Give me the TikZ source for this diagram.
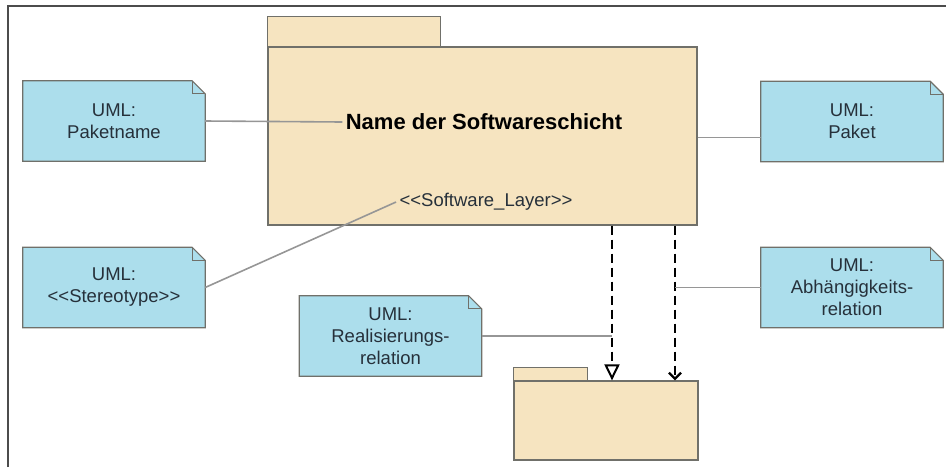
\documentclass[tikz,border=0pt]{standalone}
\usepackage{fontspec}
\setmainfont{Liberation Sans}
\usetikzlibrary{arrows.meta,backgrounds}
\definecolor{notizblau}{RGB}{172,222,236}
\definecolor{paketgelb}{RGB}{246,228,192}
\definecolor{randgrau}{RGB}{112,112,106}
\definecolor{liniengrau}{RGB}{150,150,150}
\definecolor{textgrau}{RGB}{38,48,58}
\tikzset{
	notiz/.style={minimum width=182pt,minimum height=80pt,inner sep=0pt,align=center,
		text=textgrau,font=\fontsize{18.5}{22}\selectfont},
	notizrand/.style={fill=notizblau,draw=randgrau,line width=1.2pt},
	paketrand/.style={fill=paketgelb,draw=randgrau,line width=1.2pt,inner sep=0pt},
	verbinder/.style={draw=liniengrau,line width=1.6pt},
	realpfeil/.style={line width=2.4pt,dash pattern=on 9pt off 5pt,
		-{Triangle[open,length=16pt,width=15pt,line width=2pt]}},
	abhpfeil/.style={line width=2.4pt,dash pattern=on 9pt off 5pt,
		-{Straight Barb[length=6pt,width=12pt,line width=2.4pt]}}
}
\begin{document}
\begin{tikzpicture}[x=1pt,y=-1pt,line join=miter]
	\useasboundingbox (0,0) rectangle (946,467);
	% Rahmen
	\draw[line width=1.5pt,draw=black!70] (8,467) -- (8,6) -- (946,6);
	% Pakete
	\node[paketrand,minimum width=429pt,minimum height=178pt] (schicht) at (482.5,136) {};
	\draw[paketrand] (schicht.north west) rectangle ++(173,-30);
	\node[paketrand,minimum width=184pt,minimum height=79pt] (ziel) at (606,420.5) {};
	\draw[paketrand] (ziel.north west) rectangle ++(74,-13);
	\node[font=\fontsize{22}{26}\selectfont\bfseries] (name) at (484,122) {Name der Softwareschicht};
	\node[font=\fontsize{18.5}{22}\selectfont,text=textgrau] (st) at (486,202) {<{}<Software\_Layer>{}>};
	% Notizen
	\node[notiz] (pname) at (114,121) {UML:\\Paketname};
	\node[notiz] (paket) at (852,121.5) {UML:\\Paket};
	\node[notiz] (stereo) at (114,287.5) {UML:\\<{}<Stereotype>{}>};
	\node[notiz] (real) at (390.5,336) {UML:\\Realisierungs-\\relation};
	\node[notiz] (abhn) at (852,287.5) {UML:\\Abhängigkeits-\\relation};
	\begin{scope}[on background layer]
		\foreach \n in {pname,paket,stereo,real,abhn}{
			\draw[notizrand] (\n.south west) -- (\n.north west) -- ([xshift=-13pt]\n.north east)
				-- ([yshift=-13pt]\n.north east) -- (\n.south east) -- cycle;
			\draw[draw=randgrau,line width=1pt] ([xshift=-13pt]\n.north east) |- ([yshift=-13pt]\n.north east);
		}
	\end{scope}
	% Beziehungen
	\path (612,0) coordinate (R) (675,0) coordinate (A);
	\coordinate (pk) at ([yshift=-16pt]paket.west);
	\draw[realpfeil] (schicht.south -| R) -- (ziel.north -| R);
	\draw[abhpfeil] (schicht.south -| A) -- (ziel.north -| A);
	\draw[verbinder] (pname.east) -- (name.west);
	\draw[verbinder] (pk -| schicht.east) -- (pk);
	\draw[verbinder] (stereo.east) -- (st.west);
	\draw[verbinder] (real.east) -- (real.east -| R);
	\draw[verbinder] (abhn.west -| A) -- (abhn.west);
\end{tikzpicture}
\end{document}
